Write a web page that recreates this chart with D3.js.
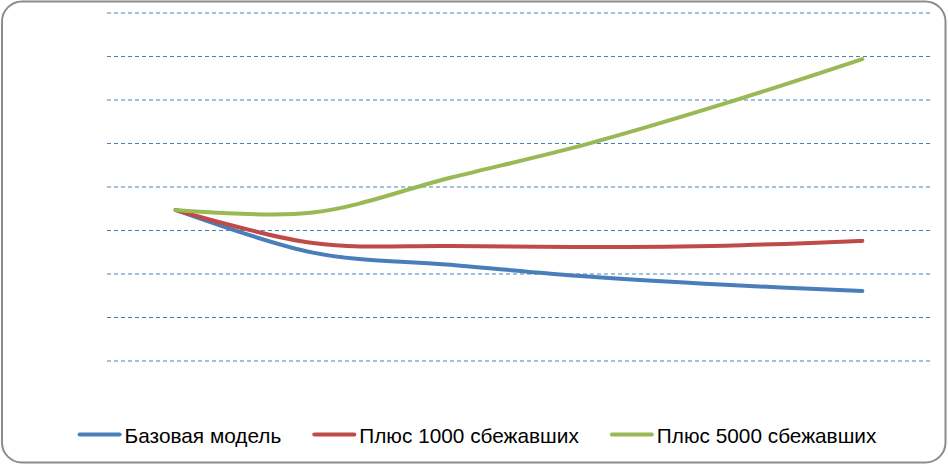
<!DOCTYPE html>
<html>
<head>
<meta charset="utf-8">
<script src="https://cdn.jsdelivr.net/npm/d3@7"></script>
<style>
  html, body { margin: 0; padding: 0; background: #fff; }
  svg { display: block; }
  text { font-family: "Liberation Sans", Arial, sans-serif; }
</style>
</head>
<body>
<svg id="chart" width="948" height="465"></svg>
<script>
// ---- data ----
const categories = ["1", "2", "3", "4", "5", "6"];
const seriesNames = ["Базовая модель", "Плюс 1000 сбежавших", "Плюс 5000 сбежавших"];
const baseModel = [3.46, 2.48, 2.20, 1.93, 1.74, 1.60];
const plus1000  = [3.46, 2.70, 2.63, 2.61, 2.64, 2.75];
const plus5000  = [3.46, 3.40, 4.20, 4.98, 5.91, 6.93];
const yTicks = [0, 1, 2, 3, 4, 5, 6, 7, 8];
const colors = ["#4a7ebb", "#be4b48", "#98b954"];

const allSeries = [baseModel, plus1000, plus5000];

const svg = d3.select("#chart");
const W = 948, H = 465;

// frame
svg.append("rect")
  .attr("x", 2).attr("y", 1.5)
  .attr("width", W - 4.5).attr("height", H - 4)
  .attr("rx", 20).attr("ry", 20)
  .attr("fill", "#fff")
  .attr("stroke", "#8c8c8c")
  .attr("stroke-width", 2);

const plot = { left: 107, right: 931, top: 12.5, bottom: 360.5 };

const x = d3.scaleBand().domain(categories).range([plot.left, plot.right]);
const y = d3.scaleLinear().domain([0, 8]).range([plot.bottom, plot.top]);

// gridlines
const yAxis = d3.axisLeft(y).tickValues(yTicks)
  .tickSize(-(plot.right - plot.left)).tickFormat("");
const g = svg.append("g")
  .attr("transform", `translate(${plot.left},0)`)
  .call(yAxis);
g.select(".domain").remove();
g.selectAll(".tick line")
  .attr("stroke", "#4a7ebb")
  .attr("stroke-width", 1.2)
  .attr("stroke-dasharray", "4,3");

// lines
const line = d3.line()
  .x((d, i) => x(categories[i]) + x.bandwidth() / 2)
  .y(d => y(d))
  .curve(d3.curveCatmullRom.alpha(0));

allSeries.forEach((s, i) => {
  svg.append("path")
    .datum(s)
    .attr("d", line)
    .attr("fill", "none")
    .attr("stroke", colors[i])
    .attr("stroke-width", 4)
    .attr("stroke-linecap", "round")
    .attr("stroke-linejoin", "round");
});

// legend
const legendY = 434.5;
const fontSize = 20.8;
const lineLen = 42, lineGap = 4, itemGap = 32;
const lg = svg.append("g");
const items = seriesNames.map((name, i) => {
  const t = lg.append("text")
    .attr("font-size", fontSize)
    .attr("fill", "#000")
    .attr("y", legendY + 8.5)
    .text(name);
  return { t, w: t.node().getComputedTextLength(), i };
});
const total = items.reduce((a, it) => a + lineLen + lineGap + it.w, 0) + itemGap * (items.length - 1);
let cx = 477.5 - total / 2;
items.forEach(it => {
  lg.append("line")
    .attr("x1", cx + 1).attr("x2", cx + lineLen - 1)
    .attr("y1", legendY).attr("y2", legendY)
    .attr("stroke", colors[it.i])
    .attr("stroke-width", 4)
    .attr("stroke-linecap", "round");
  it.t.attr("x", cx + lineLen + lineGap);
  cx += lineLen + lineGap + it.w + itemGap;
});
</script>
</body>
</html>
